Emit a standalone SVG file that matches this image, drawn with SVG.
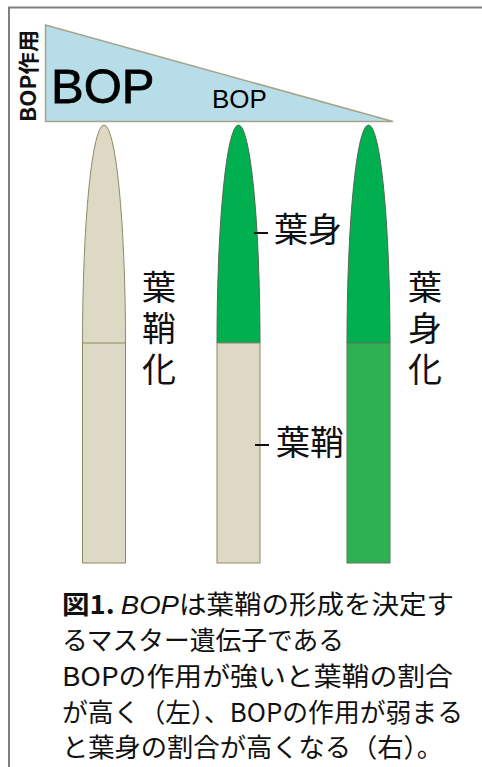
<svg xmlns="http://www.w3.org/2000/svg" width="482" height="767" viewBox="0 0 482 767">
  <style>
    .frame { stroke: #7f7f7f; stroke-width: 2; fill: none; }
    .tri { fill: #b7dde8; stroke: #a4a489; stroke-width: 1.5; }
    .lat { font-family: "Liberation Sans", Arial, sans-serif; fill: #000; }
    .jp { font-family: "Noto Sans CJK JP", "Noto Sans", sans-serif; fill: #111; }
    .vert { writing-mode: vertical-rl; letter-spacing: 7px; font-size: 34px; }
    .sheath { fill: #ddd9c4; stroke: #8f8a66; stroke-width: 1; }
    .blade { fill: #00b050; stroke: #4f6a52; stroke-width: 1; }
    .blade2 { fill: #2db152; stroke: #5a7a5a; stroke-width: 1; }
    .tick { stroke: #111; stroke-width: 2; }
    .cap { font-family: "Noto Sans CJK JP", "Noto Sans", sans-serif; font-size: 26px; fill: #111; }
  </style>

  <!-- frame -->
  <g id="frame">
    <line class="frame" x1="8" y1="7.5" x2="482" y2="7.5"/>
    <line class="frame" x1="9" y1="7" x2="9" y2="767"/>
  </g>

  <!-- BOP activity gradient -->
  <g id="bop-wedge">
    <polygon class="tri" points="45.5,25 45.5,121.5 393,121.5"/>
    <text class="lat" x="51" y="103" font-size="49" stroke="#000" stroke-width="0.8">BOP</text>
    <text class="lat" x="212" y="108" font-size="26">BOP</text>
    <text class="jp" transform="translate(36,122) rotate(-90)" font-size="21" font-weight="bold" textLength="92" lengthAdjust="spacingAndGlyphs">BOP作用</text>
  </g>

  <!-- leaf 1: sheath-type -->
  <g id="leaf-left">
    <path class="sheath" d="M82.5,563 V343 A21.5,218 0 0 1 125.5,343 V563 Z"/>
    <line x1="82.5" y1="343" x2="125.5" y2="343" stroke="#8f8a66" stroke-width="1"/>
  </g>

  <!-- leaf 2: blade over sheath -->
  <g id="leaf-middle">
    <path class="blade" d="M217,343 A21.5,218 0 0 1 260,343 Z"/>
    <rect class="sheath" x="217" y="343" width="43" height="220"/>
  </g>

  <!-- leaf 3: blade-type -->
  <g id="leaf-right">
    <path class="blade" d="M347,343 A21.5,218 0 0 1 390,343 Z"/>
    <rect class="blade2" x="347" y="343" width="43" height="220"/>
  </g>

  <!-- labels -->
  <g id="label-sheath-ized">
    <text class="jp vert" x="159" y="270">葉鞘化</text>
  </g>
  <g id="label-blade-ized">
    <text class="jp vert" x="425" y="270">葉身化</text>
  </g>
  <g id="label-blade">
    <line class="tick" x1="254" y1="233" x2="268" y2="233"/>
    <text class="jp" x="274" y="242" font-size="34">葉身</text>
  </g>
  <g id="label-sheath">
    <line class="tick" x1="255" y1="445" x2="269" y2="445"/>
    <text class="jp" x="276" y="455" font-size="34">葉鞘</text>
  </g>

  <!-- caption -->
  <g id="caption" class="cap">
    <text x="62" y="614" textLength="392" lengthAdjust="spacingAndGlyphs"><tspan font-weight="bold">図1.</tspan> <tspan font-style="italic" font-family="Liberation Sans, sans-serif">BOP</tspan>は葉鞘の形成を決定す</text>
    <text x="62" y="650" textLength="282" lengthAdjust="spacingAndGlyphs">るマスター遺伝子である</text>
    <text x="62" y="686" textLength="391" lengthAdjust="spacingAndGlyphs">BOPの作用が強いと葉鞘の割合</text>
    <text x="62" y="722" textLength="401" lengthAdjust="spacingAndGlyphs">が高く（左）、BOPの作用が弱まる</text>
    <text x="62" y="757" textLength="381" lengthAdjust="spacingAndGlyphs">と葉身の割合が高くなる（右）。</text>
  </g>
</svg>
